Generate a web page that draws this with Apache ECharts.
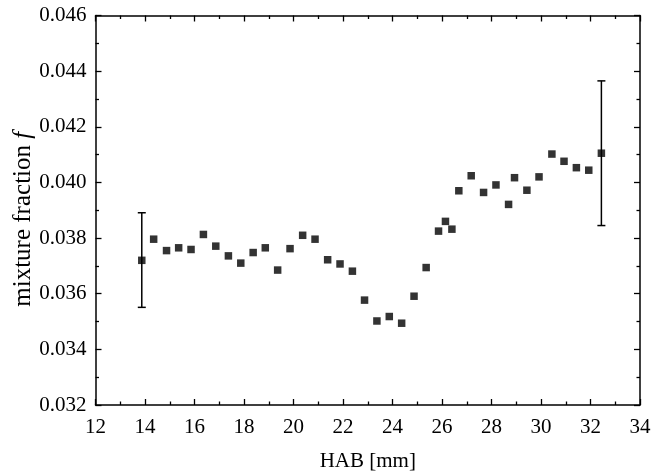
<!DOCTYPE html>
<html>
<head>
<meta charset="utf-8">
<script src="https://cdn.jsdelivr.net/npm/echarts@6/dist/echarts.min.js"></script>
<style>html,body{margin:0;padding:0;background:#fff}#c{width:652px;height:471px}</style>
</head>
<body>
<div id="c"></div>
<script>
const hab = [13.87, 14.35, 14.87, 15.36, 15.86, 16.36, 16.86, 17.37, 17.87, 18.37, 18.86, 19.36, 19.86, 20.37, 20.87, 21.38, 21.88, 22.38, 22.87, 23.37, 23.87, 24.37, 24.87, 25.36, 25.86, 26.14, 26.40, 26.68, 27.18, 27.68, 28.18, 28.69, 28.93, 29.43, 29.92, 30.44, 30.93, 31.43, 31.93, 32.44];
const mixFrac = [0.03720, 0.03796, 0.03755, 0.03765, 0.03759, 0.03813, 0.03771, 0.03736, 0.03710, 0.03748, 0.03765, 0.03685, 0.03762, 0.03810, 0.03796, 0.03722, 0.03707, 0.03681, 0.03577, 0.03502, 0.03518, 0.03494, 0.03591, 0.03694, 0.03825, 0.03860, 0.03832, 0.03970, 0.04024, 0.03964, 0.03991, 0.03921, 0.04017, 0.03972, 0.04020, 0.04102, 0.04076, 0.04053, 0.04044, 0.04105];
const errHab = [13.87, 32.44];
const errLow = [0.03551, 0.03845];
const errHigh = [0.03891, 0.04365];
const xTicks = [12, 14, 16, 18, 20, 22, 24, 26, 28, 30, 32, 34];
const yTicks = [0.032, 0.034, 0.036, 0.038, 0.040, 0.042, 0.044, 0.046];

const font = 'Liberation Serif';
const fs = 21;
const fsY = 25;
const chart = echarts.init(document.getElementById('c'), null, {renderer: 'canvas'});
const axisLine = {show: true, lineStyle: {color: '#000', width: 1.5}};
const tickBase = {show: true, inside: true, length: 6, lineStyle: {color: '#000', width: 1.3}};
const minorBase = {show: true, splitNumber: 2, length: 3.5, lineStyle: {color: '#000', width: 1.3}};

const xCommon = {
  type: 'value', min: xTicks[0], max: xTicks[xTicks.length - 1], interval: 2,
  axisLine: axisLine, axisTick: tickBase, minorTick: minorBase, splitLine: {show: false}
};
const yCommon = {
  type: 'value', min: yTicks[0], max: yTicks[yTicks.length - 1], interval: 0.002,
  axisLine: axisLine, axisTick: tickBase, minorTick: minorBase, splitLine: {show: false}
};

const pts = hab.map((x, i) => [x, mixFrac[i]]);
const errData = errHab.map((x, i) => [x, errLow[i], errHigh[i]]);

chart.setOption({
  animation: false,
  grid: {left: 95.5, right: 12, top: 15.5, bottom: 66, containLabel: false, outerBoundsMode: 'none'},
  xAxis: [
    Object.assign({}, xCommon, {
      position: 'bottom',
      name: 'HAB [mm]', nameLocation: 'middle', nameGap: 46,
      nameTextStyle: {fontFamily: font, fontSize: fs, color: '#000'},
      axisLabel: {fontFamily: font, fontSize: fs, color: '#000', margin: 12}
    }),
    Object.assign({}, xCommon, {position: 'top', axisLabel: {show: false}})
  ],
  yAxis: [
    Object.assign({}, yCommon, {
      position: 'left',
      name: '{a|mixture fraction }{b|f}', nameLocation: 'middle', nameGap: 60,
      nameMoveOverlap: false,
      nameTextStyle: {fontFamily: font, fontSize: fsY, color: '#000', padding: [0, 18, 0, 0],
        rich: {a: {fontFamily: font, fontSize: fsY, color: '#000'},
               b: {fontFamily: font, fontSize: fsY, color: '#000', fontStyle: 'italic'}}},
      axisLabel: {fontFamily: font, fontSize: fs, color: '#000', margin: 9,
        formatter: v => v.toFixed(3)}
    }),
    Object.assign({}, yCommon, {position: 'right', axisLabel: {show: false}})
  ],
  series: [
    {
      type: 'custom', xAxisIndex: 0, yAxisIndex: 0, data: errData, z: 3,
      renderItem: function (params, api) {
        const x = api.value(0);
        const lo = api.coord([x, api.value(1)]);
        const hi = api.coord([x, api.value(2)]);
        const w = 4;
        const st = {stroke: '#000', lineWidth: 1.5};
        return {type: 'group', children: [
          {type: 'line', shape: {x1: lo[0], y1: lo[1], x2: hi[0], y2: hi[1]}, style: st},
          {type: 'line', shape: {x1: lo[0] - w, y1: lo[1], x2: lo[0] + w, y2: lo[1]}, style: st},
          {type: 'line', shape: {x1: hi[0] - w, y1: hi[1], x2: hi[0] + w, y2: hi[1]}, style: st}
        ]};
      }
    },
    {
      type: 'scatter', xAxisIndex: 0, yAxisIndex: 0, data: pts, z: 4,
      symbol: 'rect', symbolSize: 7.5, itemStyle: {color: '#000'}
    }
  ]
});
</script>
</body>
</html>
